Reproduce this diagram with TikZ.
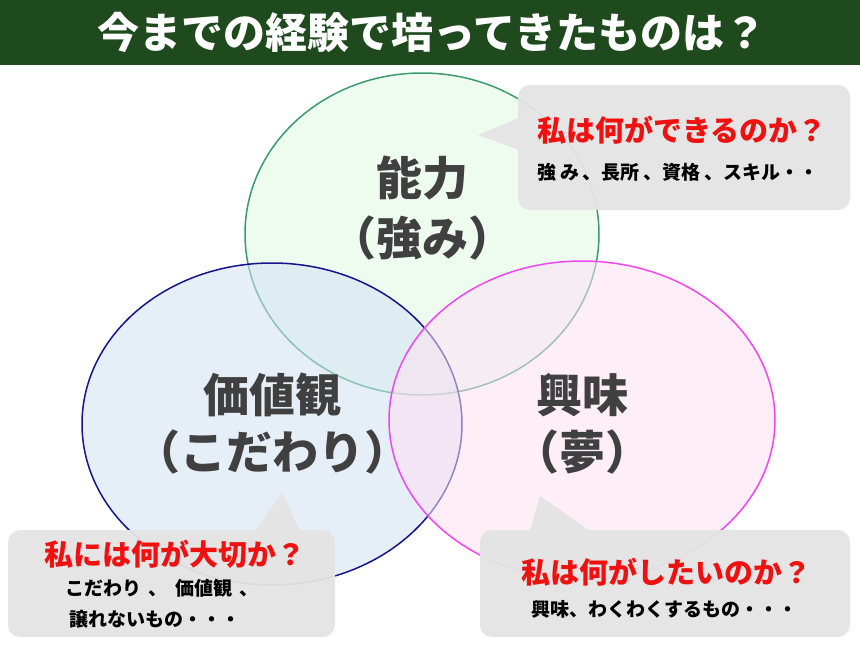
\documentclass[tikz,border=0pt]{standalone}
\usepackage{fontspec}
\setmainfont{Noto Sans CJK JP}
\usetikzlibrary{shapes.geometric}
\definecolor{titlegreen}{HTML}{1E4A1E}
\definecolor{maingray}{HTML}{404040}
\definecolor{callgray}{HTML}{E4E4E4}
\definecolor{redtxt}{HTML}{F01010}
\tikzset{
  circ/.style={ellipse, fill opacity=0.55, line width=1.5pt},
  big/.style={text=maingray, font=\fontsize{46}{50}\selectfont\bfseries},
  red/.style={text=redtxt, font=\fontsize{29}{32}\selectfont\bfseries},
  small/.style={text=black, font=\fontsize{19}{22}\selectfont\bfseries},
  call/.style={fill=callgray, fill opacity=0.95, draw=none},
}
\begin{document}
\begin{tikzpicture}[x=1pt,y=-1pt]
\useasboundingbox (0,0) rectangle (860,645);
\fill[white] (0,0) rectangle (860,645);
\fill[titlegreen] (0,0) rectangle (860,65);
\node (title) [text=white, font=\fontsize{42}{46}\selectfont\bfseries] at (432,32) {今までの経験で培ってきたものは？};
% circles
\node (cg) [circ, draw={rgb,255:red,60;green,155;blue,110}, fill={rgb,255:red,225;green,250;blue,228}, minimum width=354pt, minimum height=322pt] at (422,234) {};
\node (cb) [circ, draw={rgb,255:red,20;green,20;blue,140}, fill={rgb,255:red,210;green,225;blue,242}, minimum width=380pt, minimum height=322pt] at (272,424) {};
\node (cp) [circ, draw={rgb,255:red,240;green,70;blue,240}, fill={rgb,255:red,252;green,225;blue,242}, minimum width=386pt, minimum height=318pt] at (582,420) {};
% main labels
\node (l1) [big] at (422,178) {能力};
\node (l1b) [big] at (422,238) {（強み）};
\node (l2) [big] at (272,395) {価値観};
\node (l2b) [big] at (272,452) {（こだわり）};
\node (l3) [big] at (582,395) {興味};
\node (l3b) [big] at (582,452) {（夢）};
% callouts
\fill[call, rounded corners=12pt] (518,85) rectangle (850,210);
\fill[call] (519,118) -- (478,135) -- (519,150) -- cycle;
\fill[call, rounded corners=12pt] (8,530) rectangle (335,637);
\fill[call] (255,531) -- (282,493) -- (300,531) -- cycle;
\fill[call, rounded corners=12pt] (480,530) rectangle (850,637);
\fill[call] (530,531) -- (540,496) -- (590,531) -- cycle;
\node (r1) [red] at (682,130) {私は何ができるのか？};
\node (s1) [small] at (678,172) {強\hspace{0.2em}み\hspace{0.2em}、長所\hspace{0.2em}、資格\hspace{0.2em}、スキル・・};
\node (r2) [red] at (175,554) {私には何が大切か？};
\node (s2) [small] at (162,588) {こだわり\hspace{0.4em}、\hspace{0.4em}価値観\hspace{0.4em}、};
\node (s3) [small] at (155,619) {譲れないもの・・・};
\node (r3) [red] at (666,572) {私は何がしたいのか？};
\node (s4) [small] at (664,609) {興味、わくわくするもの・・・};
\end{tikzpicture}
\end{document}
